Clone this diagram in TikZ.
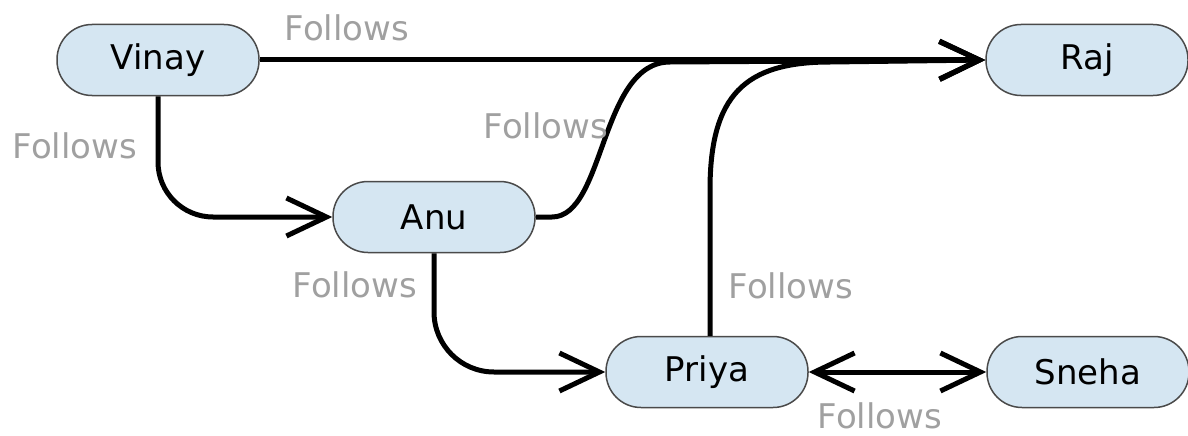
\documentclass[tikz,border=0pt]{standalone}
\usepackage{fontspec}
\setmainfont{DejaVu Sans}
\usetikzlibrary{arrows.meta}
\definecolor{nodefill}{HTML}{D5E6F2}
\definecolor{nodeline}{HTML}{4A4A4A}
\definecolor{lblgrey}{HTML}{A0A0A0}
\tikzset{
  person/.style={draw=nodeline, line width=1.5pt, fill=nodefill, rounded corners=35pt,
    minimum width=202pt, minimum height=71pt, inner sep=0pt,
    font=\fontsize{34}{40}\selectfont, text=black},
  lbl/.style={text=lblgrey, font=\fontsize{34}{40}\selectfont, inner sep=0pt},
  tipstyle/.style={},
  link/.style={line width=5pt, draw=black, -{Straight Barb[length=40pt,width=38pt]}},
  both/.style={line width=5pt, draw=black, {Straight Barb[length=40pt,width=38pt]}-{Straight Barb[length=40pt,width=38pt]}}
}
\begin{document}
\begin{tikzpicture}[x=1pt,y=-1pt]
\useasboundingbox (0,0) rectangle (1188,436);
\node[person] (vinay) at (158,60) {Vinay};
\node[person] (raj) at (1087,60) {Raj};
\node[person] (anu) at (434,217) {Anu};
\node[person] (priya) at (707,372) {Priya};
\node[person] (sneha) at (1088,372) {Sneha};

\draw[link] (vinay.east) -- (raj.west);
\draw[link, rounded corners=55pt] (vinay.south) |- (anu.west);
\draw[link, rounded corners=60pt] (anu.south) |- (priya.west);
\draw[link] (anu.east) -- (552,217) .. controls (605,217) and (600,62) .. (670,62) -- (raj.west);
\draw[link] (priya.north -| 710,0) -- (710,190) .. controls (710,95) and (745,62) .. (830,62) -- (raj.west);
\draw[both] (priya.east) -- (sneha.west);

\node[lbl] (l1) at (347,28) {Follows};
\node[lbl] (l2) at (75,146) {Follows};
\node[lbl] (l3) at (546,126) {Follows};
\node[lbl] (l4) at (355,285) {Follows};
\node[lbl] (l5) at (791,286) {Follows};
\node[lbl] (l6) at (880,416) {Follows};
\end{tikzpicture}
\end{document}
